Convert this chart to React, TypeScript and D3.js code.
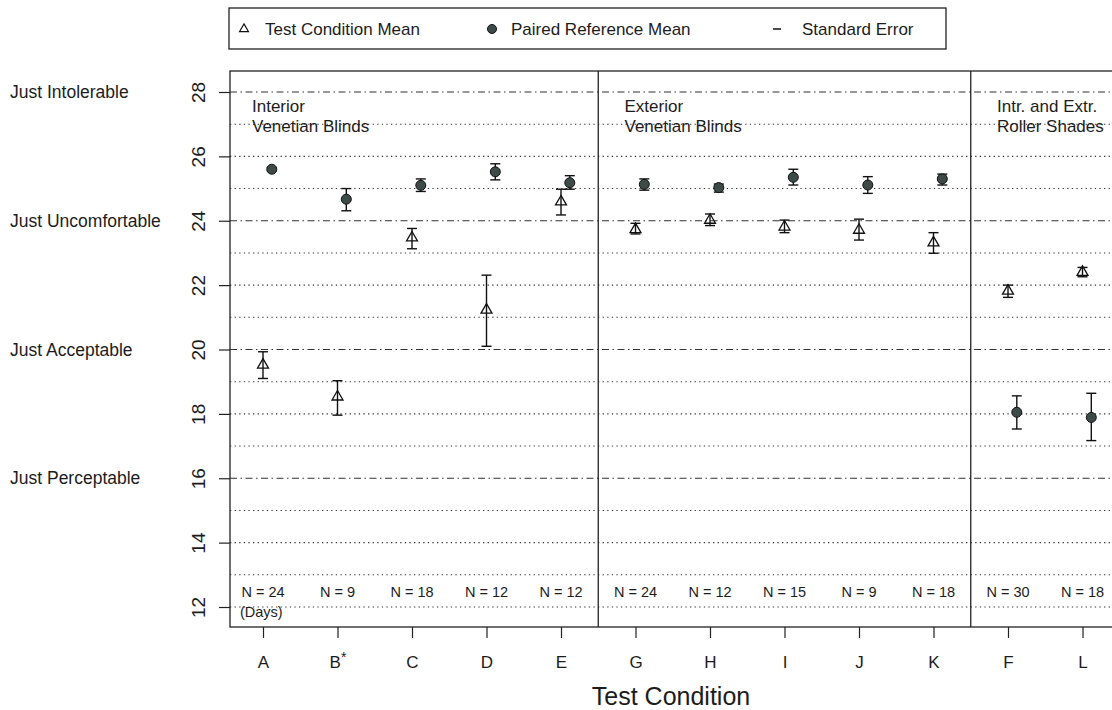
import { useRef, useEffect } from "react";
import * as d3 from "d3";

// test conditions in display order
const categories = ["A", "B", "C", "D", "E", "G", "H", "I", "J", "K", "F", "L"];
const nValues = [24, 9, 18, 12, 12, 24, 12, 15, 9, 18, 30, 18];

// test condition mean and standard error range
const testMean = [19.52, 18.53, 23.47, 21.23, 24.59, 23.73, 24.02, 23.81, 23.71, 23.32, 21.82, 22.4];
const testLo = [19.1, 17.96, 23.13, 20.1, 24.18, 23.59, 23.85, 23.63, 23.4, 22.99, 21.62, 22.26];
const testHi = [19.93, 19.03, 23.76, 22.31, 24.98, 23.92, 24.21, 24.02, 24.05, 23.63, 22.0, 22.55];

// paired reference mean and standard error range
const refMean = [25.6, 24.67, 25.1, 25.52, 25.18, 25.13, 25.03, 25.35, 25.11, 25.3, 18.05, 17.89];
const refLo = [25.55, 24.31, 24.91, 25.27, 24.98, 24.95, 24.89, 25.11, 24.85, 25.11, 17.53, 17.17];
const refHi = [25.65, 25.0, 25.3, 25.77, 25.4, 25.3, 25.14, 25.6, 25.37, 25.45, 18.56, 18.64];

const yTicks = [12, 14, 16, 18, 20, 22, 24, 26, 28];
const ratingValues = [28, 24, 20, 16];
const ratingNames = ["Just Intolerable", "Just Uncomfortable", "Just Acceptable", "Just Perceptable"];

const groupStarts = ["A", "G", "F"];
const groupNames = [
  ["Interior", "Venetian Blinds"],
  ["Exterior", "Venetian Blinds"],
  ["Intr. and Extr.", "Roller Shades"],
];

const FONT = "'Liberation Sans', Arial, Helvetica, sans-serif";
const INK = "#1c1c1c";

const App = () => {
  const svgRef = useRef<SVGSVGElement>(null);

  useEffect(() => {
    const svg = d3.select(svgRef.current);
    svg.selectAll("*").remove();

    const width = 1112,
      height = 710,
      boxTop = 71,
      boxBottom = 627;

    const x = d3.scalePoint<string>().domain(categories).range([263, 1082.5]);
    const step = x.step();
    const y = d3.scaleLinear().domain([12, 28]).range([607, 92]);

    const boxLeft = (x("A") as number) - 33;
    const boxRight = (x("L") as number) + 33;

    svg.attr("width", width).attr("height", height).style("font-family", FONT);

    // grid lines: dash-dot on the rating levels, dotted elsewhere
    const grid = svg.append("g");
    d3.range(12, 29).forEach((v) => {
      const major = ratingValues.includes(v);
      grid
        .append("line")
        .attr("x1", boxLeft)
        .attr("x2", boxRight)
        .attr("y1", y(v))
        .attr("y2", y(v))
        .attr("stroke", "#333")
        .attr("stroke-width", major ? 1.2 : 1.1)
        .attr("stroke-dasharray", major ? "7,3.5,1.5,3.5" : "1.3,3.3");
    });

    // plot frame and group dividers
    svg
      .append("rect")
      .attr("x", boxLeft)
      .attr("y", boxTop)
      .attr("width", boxRight - boxLeft)
      .attr("height", boxBottom - boxTop)
      .attr("fill", "none")
      .attr("stroke", "#222")
      .attr("stroke-width", 1.3);

    ["G", "F"].forEach((c) => {
      const xd = (x(c) as number) - step / 2;
      svg
        .append("line")
        .attr("x1", xd)
        .attr("x2", xd)
        .attr("y1", boxTop)
        .attr("y2", boxBottom)
        .attr("stroke", "#222")
        .attr("stroke-width", 1.3);
    });

    // group titles
    groupStarts.forEach((c, i) => {
      const t = svg
        .append("text")
        .attr("x", (x(c) as number) - 11)
        .attr("y", 112)
        .attr("font-size", 17)
        .attr("fill", INK);
      groupNames[i].forEach((line, j) => {
        t.append("tspan")
          .attr("x", (x(c) as number) - 11)
          .attr("dy", j === 0 ? 0 : 19.5)
          .text(line);
      });
    });

    // y axis
    const yAxis = svg
      .append("g")
      .attr("transform", "translate(" + boxLeft + ",0)")
      .call(d3.axisLeft(y).tickValues(yTicks).tickSize(11).tickPadding(0))
      .call((g) => g.select(".domain").remove())
      .call((g) => g.selectAll(".tick line").attr("stroke", "#222").attr("stroke-width", 1.2));
    yAxis
      .selectAll(".tick text")
      .attr("x", null)
      .attr("dy", null)
      .attr("text-anchor", "middle")
      .attr("transform", "translate(-25,0) rotate(-90)")
      .attr("font-size", 19)
      .attr("font-family", FONT)
      .attr("fill", INK);

    // rating labels
    svg
      .selectAll(".rating")
      .data(ratingValues)
      .join("text")
      .attr("x", 10)
      .attr("y", (d) => y(d) + 6)
      .attr("font-size", 17.5)
      .attr("fill", INK)
      .text((d, i) => ratingNames[i]);

    // x axis
    const xAxis = svg
      .append("g")
      .attr("transform", "translate(0," + boxBottom + ")")
      .call(d3.axisBottom(x).tickSize(11).tickPadding(18))
      .call((g) => g.select(".domain").remove())
      .call((g) => g.selectAll(".tick line").attr("stroke", "#222").attr("stroke-width", 1.2));
    xAxis
      .selectAll(".tick text")
      .attr("font-size", 17)
      .attr("font-family", FONT)
      .attr("fill", INK)
      .attr("dy", "0.71em");
    xAxis
      .selectAll<SVGTextElement, string>(".tick text")
      .filter((d) => d === "B")
      .append("tspan")
      .attr("dy", "-0.45em")
      .attr("font-size", 14)
      .text("*");

    svg
      .append("text")
      .attr("x", 671)
      .attr("y", 705)
      .attr("text-anchor", "middle")
      .attr("font-size", 25)
      .attr("fill", INK)
      .text("Test Condition");

    // N labels
    svg
      .selectAll(".nlab")
      .data(categories)
      .join("text")
      .attr("x", (d) => x(d) as number)
      .attr("y", 597)
      .attr("text-anchor", "middle")
      .attr("font-size", 14.5)
      .attr("fill", INK)
      .text((d, i) => "N = " + nValues[i]);
    svg
      .append("text")
      .attr("x", (x("A") as number) - 23)
      .attr("y", 617)
      .attr("font-size", 14.5)
      .attr("fill", INK)
      .text("(Days)");

    // error bars
    const capW = 5;
    const errorBar = (xs: number, lo: number, hi: number) => {
      const g = svg.append("g").attr("stroke", "#111").attr("stroke-width", 1.4);
      g.append("line").attr("x1", xs).attr("x2", xs).attr("y1", y(lo)).attr("y2", y(hi));
      g.append("line").attr("x1", xs - capW).attr("x2", xs + capW).attr("y1", y(lo)).attr("y2", y(lo));
      g.append("line").attr("x1", xs - capW).attr("x2", xs + capW).attr("y1", y(hi)).attr("y2", y(hi));
    };

    const tri = d3.symbol(d3.symbolTriangle, 52);
    const refOffset = 8.8;

    categories.forEach((c, i) => {
      const xt = x(c) as number;
      errorBar(xt, testLo[i], testHi[i]);
      svg
        .append("path")
        .attr("d", tri())
        .attr("transform", "translate(" + xt + "," + y(testMean[i]) + ")")
        .attr("fill", "none")
        .attr("stroke", "#111")
        .attr("stroke-width", 1.3);

      const xr = xt + refOffset;
      errorBar(xr, refLo[i], refHi[i]);
      svg
        .append("circle")
        .attr("cx", xr)
        .attr("cy", y(refMean[i]))
        .attr("r", 5)
        .attr("fill", "#3d4b48")
        .attr("stroke", "#111")
        .attr("stroke-width", 1);
    });

    // legend
    const legend = svg.append("g");
    legend
      .append("rect")
      .attr("x", 229)
      .attr("y", 8)
      .attr("width", 717)
      .attr("height", 41)
      .attr("fill", "none")
      .attr("stroke", "#222")
      .attr("stroke-width", 1.3);
    legend
      .append("path")
      .attr("d", d3.symbol(d3.symbolTriangle, 34)())
      .attr("transform", "translate(244,29)")
      .attr("fill", "none")
      .attr("stroke", "#111")
      .attr("stroke-width", 1.2);
    legend
      .append("circle")
      .attr("cx", 492)
      .attr("cy", 29)
      .attr("r", 4.5)
      .attr("fill", "#3d4b48")
      .attr("stroke", "#111");
    legend
      .append("line")
      .attr("x1", 773)
      .attr("x2", 781)
      .attr("y1", 29)
      .attr("y2", 29)
      .attr("stroke", "#111")
      .attr("stroke-width", 1.5);
    const legendText = ["Test Condition Mean", "Paired Reference Mean", "Standard Error"];
    const legendX = [265, 511, 802];
    legend
      .selectAll("text")
      .data(legendText)
      .join("text")
      .attr("x", (d, i) => legendX[i])
      .attr("y", 35)
      .attr("font-size", 17)
      .attr("fill", INK)
      .text((d) => d);
  }, []);

  return (
    <svg
      ref={svgRef}
      width={1112}
      height={710}
      style={{ position: "absolute", left: 0, top: 0, background: "#fff" }}
    ></svg>
  );
};

export default App;
